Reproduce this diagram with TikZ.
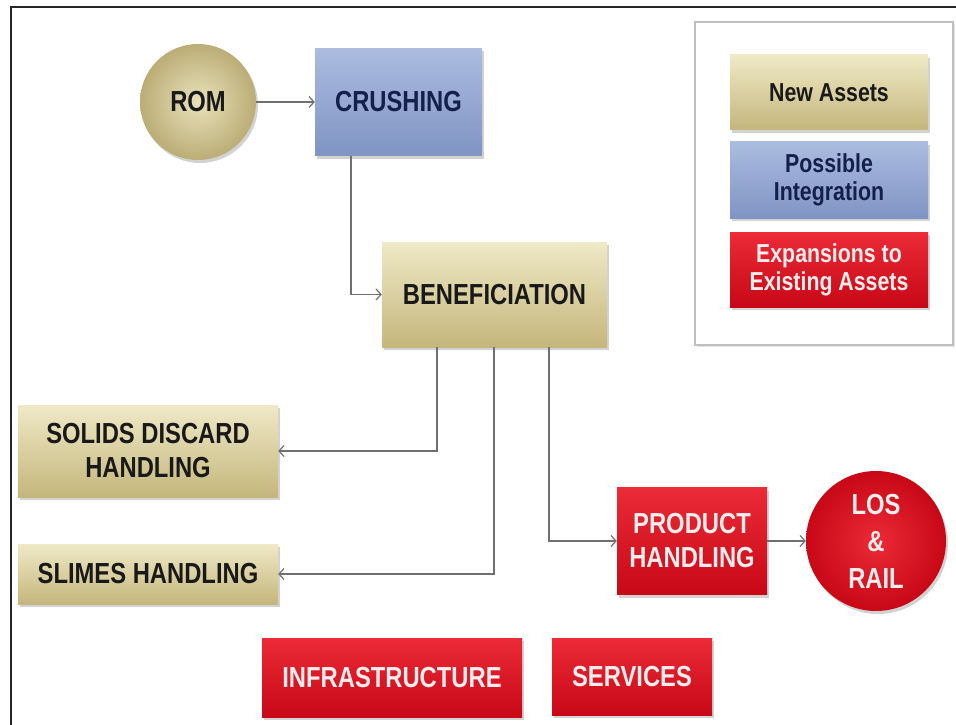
\documentclass[tikz,border=0pt]{standalone}
\usepackage{fontspec}
\newfontfamily\nar[FakeStretch=0.82]{Liberation Sans}
\usetikzlibrary{arrows.meta,shadows}
\definecolor{tanlt}{HTML}{EFE9C6}
\definecolor{tandk}{HTML}{C4B67C}
\definecolor{bluelt}{HTML}{ABBCE0}
\definecolor{bluedk}{HTML}{8094C4}
\definecolor{redlt}{HTML}{EC2A38}
\definecolor{reddk}{HTML}{C80816}
\definecolor{navy}{HTML}{13204A}
\definecolor{redtxt}{HTML}{F8ECEC}
\definecolor{conncol}{HTML}{707070}
\definecolor{framecol}{HTML}{262626}
\begin{document}
\begin{tikzpicture}[x=1bp,y=-1bp,
  base/.style={inner sep=0pt, align=center,
    font=\nar\bfseries\fontsize{29bp}{34bp}\selectfont,
    drop shadow={shadow xshift=2bp,shadow yshift=-3bp,opacity=0.35}},
  tanbox/.style={base, rectangle, top color=tanlt, bottom color=tandk, text=black!90},
  bluebox/.style={base, rectangle, top color=bluelt, bottom color=bluedk, text=navy},
  redbox/.style={base, rectangle, top color=redlt, bottom color=reddk, text=redtxt},
  legtxt/.style={font=\nar\bfseries\fontsize{26bp}{28bp}\selectfont},
  conn/.style={draw=conncol, line width=1.2bp, -{Straight Barb[length=5bp,width=11bp]}}
]
\useasboundingbox (0,0) rectangle (956,725);
\fill[white] (0,0) rectangle (956,725);
% outer frame
\draw[framecol, line width=2bp] (11,725) -- (11,7) -- (956,7);

% legend
\node[draw=black!25, line width=1.2bp, fill=white, minimum width=258bp, minimum height=323bp, inner sep=0pt,
  drop shadow={shadow xshift=1.5bp,shadow yshift=-1.5bp,opacity=0.2}] (legend) at (824,183.5) {};
\node[tanbox, legtxt, minimum width=198bp, minimum height=75bp] (leg1) at (829,92.5) {New Assets};
\node[bluebox, legtxt, minimum width=198bp, minimum height=76bp] (leg2) at (829,180) {Possible\\Integration};
\node[redbox, legtxt, minimum width=198bp, minimum height=75bp] (leg3) at (829,269.5) {Expansions to\\Existing Assets};

% main nodes
\node[base, circle, minimum size=116bp, inner color=tanlt!85!tandk, outer color=tandk!95!black, text=black!90] (rom) at (198,102) {ROM};
\node[bluebox, minimum width=167bp, minimum height=107bp] (crush) at (398.5,102) {CRUSHING};
\node[tanbox, minimum width=225bp, minimum height=105bp] (benef) at (494.5,294.5) {BENEFICIATION};
\node[tanbox, minimum width=260bp, minimum height=92bp] (solids) at (148,451) {SOLIDS DISCARD\\HANDLING};
\node[tanbox, minimum width=260bp, minimum height=60bp] (slimes) at (148,574) {SLIMES HANDLING};
\node[redbox, minimum width=150bp, minimum height=107bp] (prod) at (692,541) {PRODUCT\\HANDLING};
\node[base, circle, minimum size=140bp, inner color=redlt, outer color=reddk, text=redtxt,
  font=\nar\bfseries\fontsize{29bp}{37bp}\selectfont] (los) at (876,541) {LOS\\\&\\RAIL};
\node[redbox, minimum width=260bp, minimum height=79bp] (infra) at (392,677.5) {INFRASTRUCTURE};
\node[redbox, minimum width=160bp, minimum height=77bp] (serv) at (632,676.5) {SERVICES};

% connectors
\draw[conn] (rom.east) -- (crush.west);
\draw[conn] ([xshift=-47.5bp]crush.south) |- (benef.west);
\draw[conn] ([xshift=-57.5bp]benef.south) |- (solids.east);
\draw[conn] ([xshift=-0.5bp]benef.south) |- (slimes.east);
\draw[conn] ([xshift=54.5bp]benef.south) |- (prod.west);
\draw[conn] (prod.east) -- (los.west);
\end{tikzpicture}
\end{document}
